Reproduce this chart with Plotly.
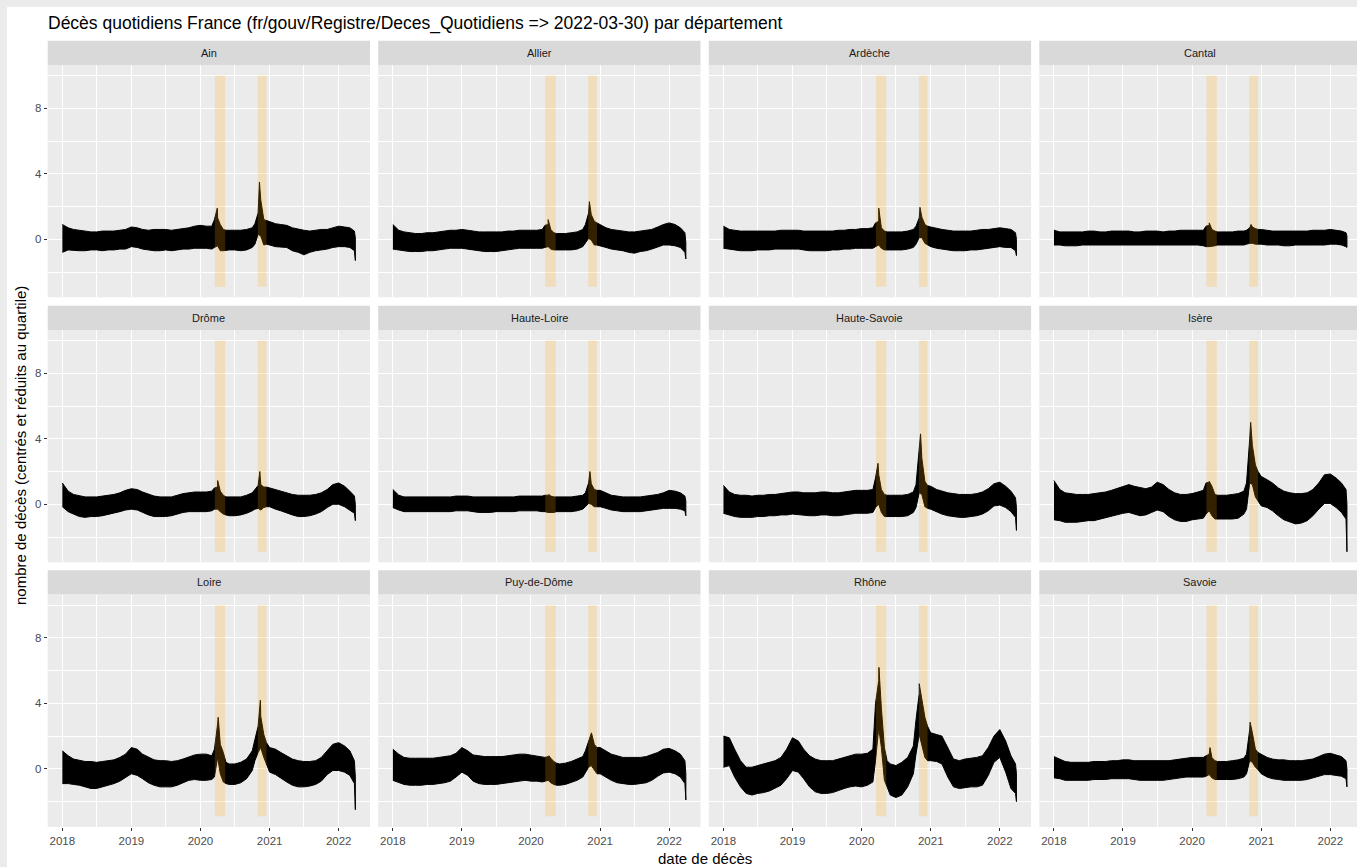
import plotly.graph_objects as go
import pandas as pd

W, H = 1357, 867

DEPARTEMENTS = ["Ain", "Allier", "Ardèche", "Cantal",
                "Drôme", "Haute-Loire", "Haute-Savoie", "Isère",
                "Loire", "Puy-de-Dôme", "Rhône", "Savoie"]

# sampling dates of the band (upper / lower edge of the daily series)
DATES = (["2018-%02d-01" % m for m in range(1, 13)] +
         ["2019-%02d-01" % m for m in range(1, 13)] +
         ["2020-01-01", "2020-02-01", "2020-03-01", "2020-03-15", "2020-04-01", "2020-04-15",
          "2020-05-01", "2020-05-15", "2020-06-01", "2020-07-01", "2020-08-01", "2020-09-01",
          "2020-10-01", "2020-10-15", "2020-11-01", "2020-11-15", "2020-12-01", "2020-12-15"] +
         ["2021-%02d-01" % m for m in range(1, 13)] +
         ["2022-01-01", "2022-02-01", "2022-03-01", "2022-03-25", "2022-03-30"])

AIN_HI = [0.9, 0.7, 0.6, 0.55, 0.5, 0.45, 0.45, 0.5, 0.5, 0.5, 0.55, 0.6,
          0.75, 0.7, 0.6, 0.55, 0.6, 0.6, 0.6, 0.55, 0.6, 0.65, 0.7, 0.8,
          0.85, 0.8, 0.8, 1.2, 1.3, 0.9, 0.6, 0.55, 0.55, 0.55, 0.55, 0.6, 0.7, 0.95, 1.6, 2.4, 1.2, 1.15,
          1.1, 0.95, 0.9, 0.85, 0.7, 0.6, 0.55, 0.5, 0.55, 0.6, 0.6, 0.7,
          0.8, 0.75, 0.7, 0.5, 0.1]
AIN_LO = [-0.8, -0.65, -0.65, -0.7, -0.7, -0.65, -0.65, -0.7, -0.65, -0.65, -0.6, -0.6,
          -0.45, -0.5, -0.6, -0.65, -0.7, -0.7, -0.65, -0.7, -0.65, -0.6, -0.6, -0.55,
          -0.55, -0.55, -0.6, -0.5, -0.4, -0.7, -0.7, -0.7, -0.65, -0.65, -0.7, -0.65, -0.5, -0.3, 0.3, 0.2, -0.35, -0.3,
          -0.35, -0.45, -0.45, -0.5, -0.7, -0.8, -0.95, -0.8, -0.7, -0.65, -0.6, -0.5,
          -0.45, -0.45, -0.5, -0.7, -1.3]

ALLIER_HI = [0.9, 0.55, 0.45, 0.4, 0.35, 0.35, 0.4, 0.4, 0.45, 0.5, 0.55, 0.55,
             0.6, 0.55, 0.5, 0.45, 0.45, 0.45, 0.45, 0.45, 0.5, 0.5, 0.55, 0.55,
             0.55, 0.55, 0.6, 0.85, 0.9, 0.6, 0.4, 0.35, 0.35, 0.35, 0.4, 0.45, 0.6, 0.9, 1.6, 1.5, 1.1, 1.0,
             0.9, 0.7, 0.6, 0.55, 0.5, 0.45, 0.45, 0.5, 0.55, 0.6, 0.75, 0.9,
             1.0, 0.9, 0.7, 0.4, -0.2]
ALLIER_LO = [-0.6, -0.65, -0.7, -0.75, -0.75, -0.75, -0.7, -0.7, -0.65, -0.6, -0.55, -0.55,
             -0.55, -0.6, -0.65, -0.7, -0.75, -0.75, -0.75, -0.7, -0.65, -0.6, -0.55, -0.55,
             -0.55, -0.55, -0.55, -0.5, -0.45, -0.6, -0.65, -0.65, -0.65, -0.65, -0.65, -0.6, -0.45, -0.2, 0.05, -0.05, -0.35, -0.35,
             -0.4, -0.5, -0.6, -0.65, -0.7, -0.8, -0.85, -0.75, -0.7, -0.6, -0.45, -0.35,
             -0.35, -0.4, -0.5, -0.8, -1.2]

ARDECHE_HI = [0.8, 0.6, 0.55, 0.5, 0.5, 0.5, 0.5, 0.5, 0.5, 0.5, 0.55, 0.55,
              0.55, 0.55, 0.5, 0.5, 0.5, 0.5, 0.5, 0.5, 0.55, 0.55, 0.6, 0.6,
              0.65, 0.65, 0.7, 1.0, 1.1, 0.7, 0.5, 0.45, 0.45, 0.45, 0.45, 0.5, 0.6, 0.8, 1.3, 1.35, 0.9, 0.8,
              0.75, 0.65, 0.6, 0.55, 0.5, 0.5, 0.5, 0.5, 0.55, 0.6, 0.6, 0.65,
              0.7, 0.65, 0.6, 0.4, 0.0]
ARDECHE_LO = [-0.55, -0.6, -0.65, -0.7, -0.7, -0.7, -0.65, -0.65, -0.65, -0.6, -0.6, -0.6,
              -0.6, -0.6, -0.65, -0.7, -0.7, -0.7, -0.7, -0.65, -0.65, -0.6, -0.6, -0.55,
              -0.55, -0.55, -0.55, -0.45, -0.35, -0.55, -0.65, -0.65, -0.65, -0.65, -0.65, -0.6, -0.5, -0.3, 0.1, 0.1, -0.25, -0.35,
              -0.45, -0.55, -0.6, -0.65, -0.7, -0.7, -0.7, -0.65, -0.65, -0.6, -0.55, -0.5,
              -0.45, -0.5, -0.5, -0.7, -1.0]

CANTAL_HI = [0.55, 0.45, 0.45, 0.45, 0.45, 0.45, 0.5, 0.5, 0.45, 0.45, 0.5, 0.5,
             0.5, 0.5, 0.45, 0.45, 0.5, 0.5, 0.5, 0.45, 0.5, 0.5, 0.55, 0.55,
             0.55, 0.55, 0.55, 0.8, 0.85, 0.6, 0.5, 0.45, 0.45, 0.45, 0.45, 0.5, 0.5, 0.55, 0.7, 0.75, 0.65, 0.6,
             0.6, 0.55, 0.5, 0.5, 0.5, 0.5, 0.5, 0.5, 0.5, 0.55, 0.55, 0.55,
             0.6, 0.55, 0.5, 0.4, 0.2]
CANTAL_LO = [-0.35, -0.35, -0.4, -0.4, -0.4, -0.35, -0.35, -0.35, -0.35, -0.35, -0.35, -0.35,
             -0.35, -0.35, -0.35, -0.35, -0.35, -0.35, -0.35, -0.35, -0.35, -0.35, -0.35, -0.35,
             -0.35, -0.35, -0.4, -0.45, -0.45, -0.45, -0.4, -0.35, -0.35, -0.35, -0.35, -0.35, -0.35, -0.3, -0.25, -0.25, -0.3, -0.3,
             -0.3, -0.35, -0.35, -0.35, -0.4, -0.4, -0.35, -0.35, -0.35, -0.35, -0.35, -0.35,
             -0.3, -0.3, -0.35, -0.45, -0.5]

DROME_HI = [1.3, 0.8, 0.6, 0.5, 0.45, 0.45, 0.45, 0.5, 0.55, 0.6, 0.7, 0.85,
            0.95, 0.9, 0.75, 0.6, 0.5, 0.45, 0.45, 0.45, 0.55, 0.65, 0.7, 0.75,
            0.75, 0.75, 0.8, 1.0, 1.05, 0.8, 0.55, 0.45, 0.45, 0.45, 0.45, 0.55, 0.7, 0.9, 1.15, 1.2, 1.05, 1.05,
            1.0, 0.9, 0.8, 0.7, 0.6, 0.55, 0.55, 0.55, 0.6, 0.7, 0.9, 1.2,
            1.3, 1.1, 0.8, 0.5, 0.0]
DROME_LO = [-0.15, -0.45, -0.6, -0.75, -0.8, -0.75, -0.75, -0.7, -0.6, -0.55, -0.45, -0.35,
            -0.3, -0.35, -0.5, -0.65, -0.75, -0.75, -0.75, -0.7, -0.6, -0.5, -0.45, -0.45,
            -0.45, -0.45, -0.4, -0.3, -0.3, -0.45, -0.6, -0.65, -0.7, -0.7, -0.65, -0.55, -0.4, -0.3, -0.25, -0.35, -0.2, -0.15,
            -0.15, -0.3, -0.4, -0.55, -0.65, -0.75, -0.75, -0.7, -0.6, -0.45, -0.2, 0.0,
            0.0, -0.15, -0.35, -0.55, -1.0]

HAUTE_LOIRE_HI = [0.9, 0.55, 0.45, 0.45, 0.45, 0.45, 0.45, 0.45, 0.45, 0.45, 0.45, 0.5,
                  0.5, 0.5, 0.45, 0.45, 0.45, 0.45, 0.45, 0.45, 0.45, 0.45, 0.5, 0.5,
                  0.5, 0.5, 0.5, 0.55, 0.55, 0.5, 0.45, 0.45, 0.45, 0.45, 0.45, 0.5, 0.55, 0.7, 1.3, 1.25, 0.9, 0.85,
                  0.85, 0.7, 0.55, 0.5, 0.45, 0.45, 0.45, 0.45, 0.5, 0.55, 0.6, 0.7,
                  0.85, 0.8, 0.7, 0.5, 0.2]
HAUTE_LOIRE_LO = [-0.2, -0.35, -0.45, -0.45, -0.45, -0.45, -0.45, -0.45, -0.45, -0.45, -0.45, -0.4,
                  -0.4, -0.4, -0.45, -0.5, -0.5, -0.5, -0.45, -0.45, -0.45, -0.45, -0.4, -0.4,
                  -0.4, -0.4, -0.45, -0.45, -0.5, -0.5, -0.5, -0.45, -0.45, -0.45, -0.45, -0.4, -0.3, -0.15, 0.05, 0.0, -0.15, -0.15,
                  -0.15, -0.25, -0.35, -0.4, -0.45, -0.45, -0.45, -0.45, -0.4, -0.35, -0.3, -0.25,
                  -0.25, -0.25, -0.3, -0.4, -0.7]

HAUTE_SAVOIE_HI = [1.15, 0.75, 0.6, 0.55, 0.55, 0.5, 0.55, 0.55, 0.6, 0.6, 0.65, 0.7,
                   0.75, 0.75, 0.7, 0.7, 0.7, 0.75, 0.75, 0.7, 0.7, 0.75, 0.8, 0.85,
                   0.85, 0.85, 0.9, 1.6, 1.8, 0.9, 0.6, 0.55, 0.55, 0.55, 0.55, 0.6, 0.75, 1.2, 3.3, 2.8, 1.4, 1.15,
                   1.1, 0.9, 0.8, 0.7, 0.65, 0.6, 0.6, 0.6, 0.65, 0.75, 0.95, 1.25,
                   1.35, 1.1, 0.8, 0.4, -0.2]
HAUTE_SAVOIE_LO = [-0.55, -0.65, -0.75, -0.8, -0.8, -0.8, -0.75, -0.75, -0.7, -0.7, -0.65, -0.65,
                   -0.6, -0.65, -0.65, -0.7, -0.7, -0.65, -0.65, -0.7, -0.7, -0.65, -0.6, -0.55,
                   -0.55, -0.55, -0.5, -0.2, 0.0, -0.5, -0.75, -0.75, -0.75, -0.75, -0.75, -0.7, -0.5, -0.2, 0.7, 0.6, -0.15, -0.25,
                   -0.3, -0.45, -0.6, -0.7, -0.75, -0.8, -0.8, -0.75, -0.7, -0.6, -0.4, -0.1,
                   -0.05, -0.2, -0.45, -0.8, -1.6]

ISERE_HI = [1.45, 0.9, 0.7, 0.65, 0.6, 0.6, 0.6, 0.65, 0.7, 0.75, 0.85, 0.95,
            1.1, 1.2, 1.1, 1.0, 0.95, 1.05, 1.35, 1.2, 0.9, 0.7, 0.6, 0.6,
            0.65, 0.75, 0.85, 1.3, 1.35, 1.1, 0.6, 0.55, 0.55, 0.55, 0.6, 0.65, 0.8, 1.3, 4.0, 3.6, 2.4, 2.0,
            1.7, 1.5, 1.3, 1.0, 0.8, 0.7, 0.65, 0.65, 0.7, 0.9, 1.3, 1.8,
            1.85, 1.6, 1.3, 0.9, 0.0]
ISERE_LO = [-0.95, -1.0, -1.1, -1.1, -1.1, -1.05, -1.0, -1.0, -0.9, -0.85, -0.75, -0.65,
            -0.55, -0.5, -0.6, -0.7, -0.65, -0.5, -0.35, -0.45, -0.75, -0.95, -1.05, -1.05,
            -0.95, -0.9, -0.85, -0.6, -0.4, -0.7, -0.9, -0.9, -0.9, -0.9, -0.9, -0.85, -0.6, -0.3, 1.3, 1.2, 0.45, 0.2,
            -0.1, -0.2, -0.4, -0.7, -0.95, -1.1, -1.2, -1.15, -1.0, -0.7, -0.3, 0.05,
            0.05, -0.2, -0.5, -0.9, -2.9]

LOIRE_HI = [1.1, 0.8, 0.6, 0.5, 0.45, 0.45, 0.4, 0.45, 0.5, 0.55, 0.7, 0.9,
            1.3, 1.2, 0.9, 0.7, 0.55, 0.5, 0.5, 0.45, 0.5, 0.6, 0.75, 0.85,
            0.9, 0.9, 0.8, 1.2, 2.75, 1.5, 1.0, 0.4, 0.3, 0.3, 0.4, 0.6, 1.1, 1.8, 2.6, 3.2, 2.1, 1.6,
            1.3, 1.2, 1.0, 0.8, 0.6, 0.5, 0.45, 0.45, 0.5, 0.7, 1.1, 1.5,
            1.6, 1.4, 1.1, 0.5, -0.5]
LOIRE_LO = [-0.9, -0.9, -0.95, -1.0, -1.1, -1.2, -1.2, -1.1, -1.0, -0.9, -0.75, -0.55,
            -0.3, -0.4, -0.6, -0.85, -1.0, -1.1, -1.1, -1.1, -1.0, -0.85, -0.7, -0.65,
            -0.7, -0.7, -0.65, -0.5, 0.7, -0.3, -0.8, -0.9, -0.95, -0.95, -0.85, -0.6, -0.1, 0.5, 1.0, 1.3, 0.7, 0.3,
            -0.2, -0.35, -0.55, -0.8, -1.0, -1.1, -1.1, -1.05, -0.95, -0.75, -0.35, -0.1,
            -0.1, -0.2, -0.4, -0.9, -2.5]

PUY_DE_DOME_HI = [1.2, 0.9, 0.7, 0.65, 0.65, 0.65, 0.65, 0.65, 0.7, 0.75, 0.8, 0.95,
                  1.3, 1.1, 0.85, 0.8, 0.75, 0.75, 0.75, 0.75, 0.8, 0.85, 0.9, 0.9,
                  0.85, 0.8, 0.75, 0.7, 0.75, 0.65, 0.45, 0.35, 0.3, 0.35, 0.45, 0.6, 0.75, 1.1, 1.7, 2.1, 1.5, 1.3,
                  1.3, 1.1, 0.9, 0.8, 0.7, 0.7, 0.7, 0.7, 0.75, 0.85, 1.0, 1.2,
                  1.25, 1.1, 0.9, 0.5, -0.3]
PUY_DE_DOME_LO = [-0.7, -0.85, -0.95, -1.0, -1.0, -1.0, -0.95, -0.95, -0.9, -0.85, -0.75, -0.5,
                  -0.2, -0.4, -0.75, -0.9, -0.95, -0.95, -0.95, -0.9, -0.85, -0.8, -0.75, -0.7,
                  -0.75, -0.75, -0.8, -0.75, -0.7, -0.85, -0.95, -1.0, -1.0, -0.95, -0.85, -0.7, -0.5, -0.2, 0.1, 0.2, -0.1, -0.3,
                  -0.3, -0.5, -0.7, -0.85, -0.9, -0.95, -0.95, -0.9, -0.85, -0.7, -0.45, -0.25,
                  -0.2, -0.3, -0.5, -0.9, -1.9]

RHONE_HI = [2.0, 1.9, 1.2, 0.5, 0.1, 0.1, 0.2, 0.3, 0.4, 0.5, 0.7, 1.2,
            1.9, 1.7, 1.2, 0.8, 0.6, 0.5, 0.5, 0.5, 0.6, 0.7, 0.8, 0.9,
            0.9, 0.95, 1.2, 4.0, 5.4, 3.7, 1.3, 0.5, 0.3, 0.2, 0.4, 0.7, 1.4, 3.0, 4.6, 4.2, 3.15, 2.6,
            2.2, 2.1, 2.0, 1.3, 0.6, 0.5, 0.6, 0.65, 0.7, 0.8, 1.3, 2.0,
            2.4, 1.7, 0.8, 0.3, -0.3]
RHONE_LO = [0.1, 0.2, -0.5, -1.1, -1.5, -1.6, -1.5, -1.45, -1.35, -1.2, -1.0, -0.6,
            -0.1, -0.2, -0.6, -1.1, -1.4, -1.5, -1.5, -1.45, -1.3, -1.2, -1.1, -1.05,
            -1.1, -1.0, -0.8, 0.5, 2.5, 1.3, -0.7, -1.1, -1.6, -1.75, -1.6, -1.1, -0.3, 0.9, 2.1, 1.5, 0.7, 0.5,
            0.5, 0.45, 0.3, -0.5, -1.1, -1.2, -1.15, -1.1, -1.1, -1.0, -0.4, 0.4,
            0.7, -0.2, -1.2, -1.5, -2.0]

SAVOIE_HI = [0.75, 0.6, 0.45, 0.4, 0.4, 0.4, 0.4, 0.45, 0.45, 0.45, 0.5, 0.5,
             0.55, 0.55, 0.5, 0.5, 0.5, 0.5, 0.5, 0.5, 0.5, 0.55, 0.6, 0.65,
             0.7, 0.7, 0.7, 0.8, 0.9, 0.7, 0.5, 0.45, 0.45, 0.45, 0.5, 0.55, 0.65, 0.9, 2.4, 2.2, 1.2, 1.0,
             0.9, 0.7, 0.6, 0.55, 0.55, 0.5, 0.5, 0.5, 0.55, 0.6, 0.75, 0.9,
             0.95, 0.85, 0.75, 0.5, 0.0]
SAVOIE_LO = [-0.55, -0.6, -0.7, -0.7, -0.7, -0.7, -0.7, -0.65, -0.65, -0.65, -0.6, -0.6,
             -0.6, -0.6, -0.65, -0.7, -0.7, -0.7, -0.7, -0.7, -0.65, -0.6, -0.55, -0.5,
             -0.5, -0.5, -0.5, -0.45, -0.35, -0.55, -0.65, -0.65, -0.65, -0.65, -0.65, -0.6, -0.5, -0.3, 0.5, 0.4, 0.1, -0.05,
             -0.3, -0.5, -0.6, -0.65, -0.7, -0.7, -0.7, -0.7, -0.65, -0.55, -0.45, -0.35,
             -0.35, -0.4, -0.45, -0.6, -1.1]

HIGHS = [AIN_HI, ALLIER_HI, ARDECHE_HI, CANTAL_HI, DROME_HI, HAUTE_LOIRE_HI,
         HAUTE_SAVOIE_HI, ISERE_HI, LOIRE_HI, PUY_DE_DOME_HI, RHONE_HI, SAVOIE_HI]
LOWS = [AIN_LO, ALLIER_LO, ARDECHE_LO, CANTAL_LO, DROME_LO, HAUTE_LOIRE_LO,
        HAUTE_SAVOIE_LO, ISERE_LO, LOIRE_LO, PUY_DE_DOME_LO, RHONE_LO, SAVOIE_LO]

# daily peaks of the two waves, read per department
WAVE1_PEAK_DATE = ["2020-03-30", "2020-04-01", "2020-04-01", "2020-04-01", "2020-04-01", "2020-04-05",
                   "2020-03-28", "2020-04-01", "2020-04-04", "2020-04-05", "2020-04-02", "2020-04-05"]
WAVE1_PEAK = [1.9, 1.2, 1.9, 1.0, 1.45, 0.6, 2.5, 1.4, 3.15, 0.8, 6.2, 1.3]
WAVE2_PEAK_DATE = ["2020-11-08", "2020-11-05", "2020-11-05", "2020-11-08", "2020-11-10", "2020-11-08",
                   "2020-11-08", "2020-11-06", "2020-11-13", "2020-11-16", "2020-11-01", "2020-11-03"]
WAVE2_PEAK = [3.5, 2.3, 1.95, 0.9, 2.0, 2.0, 4.3, 5.0, 4.2, 2.2, 5.2, 2.85]

# confinement periods (shaded)
CONF_START = ["2020-03-17", "2020-10-30"]
CONF_END = ["2020-05-11", "2020-12-15"]
CONF_YMIN, CONF_YMAX = -2.9, 10.0

DATA_START, DATA_END = "2018-01-01", "2022-03-30"
YEAR_TICKS = ["2018-01-01", "2019-01-01", "2020-01-01", "2021-01-01", "2022-01-01"]
YEAR_LABELS = ["2018", "2019", "2020", "2021", "2022"]
MID_YEARS = ["2018-07-01", "2019-07-01", "2020-07-01", "2021-07-01"]
Y_TICKS = [0, 4, 8]
Y_MINOR = [-2, 2, 6, 10]

TITLE = "Décès quotidiens France (fr/gouv/Registre/Deces_Quotidiens => 2022-03-30) par département"
XTITLE = "date de décès"
YTITLE = "nombre de décès (centrés et réduits au quartile)"

# ---- layout geometry (pixels) ----
COLS = [(47.7, 370.0), (378.2, 700.5), (708.8, 1031.1), (1039.3, 1361.6)]
ROWS = [(65.0, 297.3), (330.0, 562.3), (594.6, 826.9)]
STRIP_H = 24.3
FONT = "Liberation Sans, Arial, sans-serif"


def px(x):
    return x / W


def py(y):
    return 1 - y / H


# ranges (ggplot 5% expansion)
d0, d1 = pd.Timestamp(DATA_START), pd.Timestamp(DATA_END)
span = d1 - d0
xr0 = d0 - span * 0.05
xr1 = d1 + span * 0.05
ymin = min(min(l) for l in LOWS + [[CONF_YMIN]])
ymax = max(max(h) for h in HIGHS + [[CONF_YMAX]])
ypad = (ymax - ymin) * 0.05
yr = [ymin - ypad, ymax + ypad]

fig = go.Figure()
layout = dict(
    width=W, height=H, autosize=False,
    margin=dict(l=0, r=0, t=0, b=0),
    paper_bgcolor="white", plot_bgcolor="#ebebeb",
    showlegend=False,
    font=dict(family=FONT, color="#4d4d4d", size=11),
)
shapes = []
annotations = []

# outer grey frame (top / left)
shapes.append(dict(type="rect", xref="paper", yref="paper", x0=0, x1=1, y0=py(7), y1=1,
                   fillcolor="#ebebeb", line=dict(width=0), layer="below"))
shapes.append(dict(type="rect", xref="paper", yref="paper", x0=0, x1=px(7), y0=0, y1=1,
                   fillcolor="#ebebeb", line=dict(width=0), layer="below"))

for i, name in enumerate(DEPARTEMENTS):
    r, c = divmod(i, 4)
    n = "" if i == 0 else str(i + 1)
    xa, ya = "xaxis" + n, "yaxis" + n
    xref, yref = "x" + n, "y" + n
    cx0, cx1 = COLS[c]
    ry0, ry1 = ROWS[r]
    full_w = cx1 - cx0
    vis_x1 = min(cx1, W)
    rng_end = xr0 + (xr1 - xr0) * ((vis_x1 - cx0) / full_w)

    tickfont = dict(size=11.5, color="#4d4d4d", family=FONT)
    layout[xa] = dict(
        domain=[px(cx0), px(vis_x1)], anchor=yref,
        range=[xr0, rng_end], type="date",
        tickvals=YEAR_TICKS, ticktext=YEAR_LABELS,
        showticklabels=(r == 2), ticks="outside" if r == 2 else "",
        ticklen=3, tickwidth=1, tickcolor="#333333", tickfont=tickfont,
        showgrid=True, gridcolor="white", gridwidth=1.3,
        minor=dict(tickvals=MID_YEARS, showgrid=True, gridcolor="white", gridwidth=0.7, ticks=""),
        zeroline=False, showline=False, fixedrange=True,
    )
    layout[ya] = dict(
        domain=[py(ry1), py(ry0)], anchor=xref,
        range=yr,
        tickvals=Y_TICKS, ticktext=[str(v) for v in Y_TICKS],
        showticklabels=(c == 0), ticks="outside" if c == 0 else "",
        ticklen=3, tickwidth=1, tickcolor="#333333", tickfont=tickfont,
        showgrid=True, gridcolor="white", gridwidth=1.3,
        minor=dict(tickvals=Y_MINOR, showgrid=True, gridcolor="white", gridwidth=0.7, ticks=""),
        zeroline=False, showline=False, fixedrange=True,
    )

    # upper edge with the two wave peaks merged in, date-sorted
    upper = sorted(list(zip(pd.to_datetime(DATES), HIGHS[i])) +
                   [(pd.Timestamp(WAVE1_PEAK_DATE[i]), WAVE1_PEAK[i]),
                    (pd.Timestamp(WAVE2_PEAK_DATE[i]), WAVE2_PEAK[i])])
    ux = [d for d, _ in upper]
    uy = [v for _, v in upper]
    lx = list(pd.to_datetime(DATES))[::-1]
    ly = LOWS[i][::-1]
    fig.add_trace(go.Scatter(
        x=ux + lx, y=uy + ly,
        xaxis=xref, yaxis=yref, mode="lines", fill="toself",
        fillcolor="black", line=dict(color="black", width=1),
        hoverinfo="skip",
    ))

    for s, e in zip(CONF_START, CONF_END):
        shapes.append(dict(type="rect", xref=xref, yref=yref, x0=s, x1=e,
                           y0=CONF_YMIN, y1=CONF_YMAX,
                           fillcolor="rgba(255,165,0,0.2)", line=dict(width=0), layer="above"))

    # strip
    shapes.append(dict(type="rect", xref="paper", yref="paper",
                       x0=px(cx0), x1=px(vis_x1), y0=py(ry0), y1=py(ry0 - STRIP_H),
                       fillcolor="#d9d9d9", line=dict(width=0), layer="below"))
    annotations.append(dict(text=name, xref="paper", yref="paper",
                            x=px((cx0 + cx1) / 2), y=py(ry0 - STRIP_H / 2),
                            xanchor="center", yanchor="middle", showarrow=False,
                            font=dict(size=11, color="#1a1a1a", family=FONT)))

annotations.append(dict(text=TITLE, xref="paper", yref="paper", x=px(46), y=py(24),
                        xanchor="left", yanchor="middle", showarrow=False,
                        font=dict(size=17.5, color="black", family=FONT)))
annotations.append(dict(text=XTITLE, xref="paper", yref="paper", x=px(704.7), y=py(858),
                        xanchor="center", yanchor="middle", showarrow=False,
                        font=dict(size=15, color="black", family=FONT)))
annotations.append(dict(text=YTITLE, xref="paper", yref="paper", x=px(21), y=py(446),
                        xanchor="center", yanchor="middle", showarrow=False, textangle=-90,
                        font=dict(size=15, color="black", family=FONT)))

layout["shapes"] = shapes
layout["annotations"] = annotations
fig.update_layout(**layout)
fig.write_html("out.html")
